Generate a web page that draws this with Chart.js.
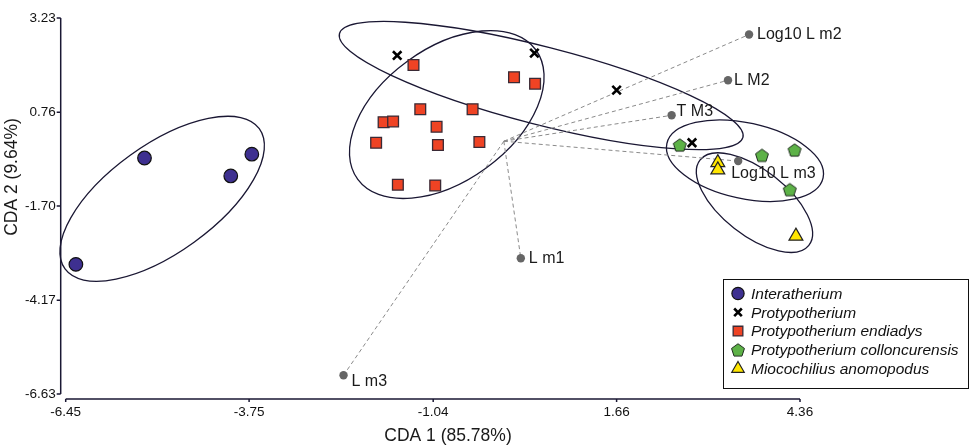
<!DOCTYPE html>
<html>
<head>
<meta charset="utf-8">
<script src="https://cdn.jsdelivr.net/npm/chart.js@4.4.1/dist/chart.umd.min.js"></script>
<style>
html,body{margin:0;padding:0;background:#fff;}
#wrap{width:979px;height:446px;}
</style>
</head>
<body>
<div id="wrap"><canvas id="cda" width="979" height="446"></canvas></div>
<script>
// CDA scores per group [CDA1, CDA2]
const interatherium = [[-5.29,-0.44],[-4.02,-0.91],[-3.71,-0.34],[-6.30,-3.23]];
const protypotherium = [[-1.57,2.25],[0.45,2.31],[1.66,1.34],[2.77,-0.04]];
const endiadys = [[-1.33,2.00],[0.15,1.68],[0.46,1.51],[-1.23,0.84],[-0.46,0.84],[-1.77,0.50],
                  [-1.63,0.52],[-0.99,0.38],[-1.88,-0.04],[-0.97,-0.10],[-0.36,-0.02],[-1.56,-1.14],[-1.01,-1.16]];
const colloncurensis = [[2.59,-0.10],[3.80,-0.37],[4.28,-0.23],[4.21,-1.27]];
const miocochilius = [[3.15,-0.56],[3.15,-0.75],[4.30,-2.49]];

const groupNames = ['Interatherium','Protypotherium','Protypotherium endiadys','Protypotherium colloncurensis','Miocochilius anomopodus'];

// variable loadings (biplot vectors from origin)
const vectorNames = ['Log10 L m2','L M2','T M3','Log10 L m3','L m1','L m3'];
const vectorEnds = [[3.61,2.80],[3.30,1.60],[2.47,0.68],[3.45,-0.52],[0.25,-3.07],[-2.36,-6.14]];

// 95% ellipses: centre, first and second semi-axis (data units)
const ellipseCenters = [[-5.03,-1.51],[0.55,1.46],[-0.84,0.70],[3.55,-0.51],[3.69,-1.61]];
const ellipseAxisA = [[1.43,1.84],[2.97,-1.36],[1.31,1.70],[1.15,-0.45],[0.80,-1.12]];
const ellipseAxisB = [[0.47,-1.14],[-0.14,-0.99],[0.58,-1.40],[-0.12,-0.97],[-0.30,-0.67]];

const xTicks = [-6.45,-3.75,-1.04,1.66,4.36];
const yTicks = [3.23,0.76,-1.70,-4.17,-6.63];

const FONT = '"Liberation Sans", Arial, sans-serif';
const lineCol = '#1a1733';

function toXY(arr){ return arr.map(function(p){ return {x:p[0], y:p[1]}; }); }

function makePentagon(){
    const c = document.createElement('canvas');
    c.width = 16; c.height = 16;
    const g = c.getContext('2d');
    g.beginPath();
    for (let k = 0; k < 5; k++) {
        const t = -Math.PI/2 + k*2*Math.PI/5;
        const px = 8 + 6.8*Math.cos(t), py = 8.6 + 6.8*Math.sin(t);
        if (k) g.lineTo(px,py); else g.moveTo(px,py);
    }
    g.closePath();
    g.fillStyle = '#5db247'; g.fill();
    g.strokeStyle = '#1d2a1d'; g.lineWidth = 1; g.stroke();
    return c;
}
const pentagon = makePentagon();

var datasets = [
    {label: groupNames[0], data: toXY(interatherium), pointStyle:'circle', pointRadius:6.8,
     backgroundColor:'#3e3090', borderColor:'#111', borderWidth:1.2},
    {label: groupNames[1], data: toXY(protypotherium), pointStyle:'crossRot', pointRadius:6,
     backgroundColor:'#000', borderColor:'#000', borderWidth:2.6},
    {label: groupNames[2], data: toXY(endiadys), pointStyle:'rect', pointRadius:7.6,
     backgroundColor:'#ef4324', borderColor:'#3a2a35', borderWidth:1.3},
    {label: groupNames[3], data: toXY(colloncurensis), pointStyle:pentagon, pointRadius:7,
     backgroundColor:'#5db247', borderColor:'#1d2a1d', borderWidth:1},
    {label: groupNames[4], data: toXY(miocochilius), pointStyle:'triangle', pointRadius:8,
     backgroundColor:'#ffe600', borderColor:'#222', borderWidth:1.2}
];
// dashed loading vectors
vectorEnds.forEach(function(e, i){
    datasets.push({label: vectorNames[i], data: [{x:0,y:0},{x:e[0],y:e[1]}], showLine:true,
        borderColor:'#8a8a8a', borderWidth:1, borderDash:[4,3],
        pointRadius:[0,4.2], pointBackgroundColor:'#666', pointBorderWidth:0});
});
datasets.forEach(function(d){ d.clip = false; });

// label offsets for vector names (px)
const vecLabelShift = [[8,0],[6,0],[5,-4],[-7,13],[8,0],[8,6]];

const ellipsePlugin = {
    id: 'ellipses',
    beforeDatasetsDraw(chart) {
        const ctx = chart.ctx, xs = chart.scales.x, ys = chart.scales.y;
        ctx.save();
        ctx.strokeStyle = lineCol;
        ctx.lineWidth = 1.3;
        ellipseCenters.forEach(function(c, i){
            const cx = xs.getPixelForValue(c[0]), cy = ys.getPixelForValue(c[1]);
            const a = ellipseAxisA[i], b = ellipseAxisB[i];
            const ax = xs.getPixelForValue(c[0]+a[0]) - cx, ay = ys.getPixelForValue(c[1]+a[1]) - cy;
            const bx = xs.getPixelForValue(c[0]+b[0]) - cx, by = ys.getPixelForValue(c[1]+b[1]) - cy;
            ctx.save();
            ctx.beginPath();
            ctx.transform(ax, ay, bx, by, cx, cy);
            ctx.arc(0, 0, 1, 0, Math.PI*2);
            ctx.restore();
            ctx.stroke();
        });
        ctx.restore();
    }
};

const axesPlugin = {
    id: 'offsetAxes',
    afterDraw(chart) {
        const ctx = chart.ctx, xs = chart.scales.x, ys = chart.scales.y, area = chart.chartArea;
        ctx.save();
        ctx.strokeStyle = lineCol;
        ctx.lineWidth = 1.5;
        // y axis, shifted left
        const yx = area.left - 5;
        ctx.beginPath();
        ctx.moveTo(yx, ys.getPixelForValue(yTicks[0]));
        ctx.lineTo(yx, ys.getPixelForValue(yTicks[yTicks.length-1]));
        yTicks.forEach(function(v){
            const p = ys.getPixelForValue(v);
            ctx.moveTo(yx - 4, p); ctx.lineTo(yx, p);
        });
        ctx.stroke();
        // x axis, shifted down
        const xy = area.bottom + 5;
        ctx.beginPath();
        ctx.moveTo(xs.getPixelForValue(xTicks[0]), xy);
        ctx.lineTo(xs.getPixelForValue(xTicks[xTicks.length-1]), xy);
        xTicks.forEach(function(v){
            const p = xs.getPixelForValue(v);
            ctx.moveTo(p, xy); ctx.lineTo(p, xy + 3);
        });
        ctx.stroke();

        // axis titles
        ctx.fillStyle = '#1a1a1a';
        ctx.font = '17.5px ' + FONT;
        ctx.textAlign = 'center';
        ctx.textBaseline = 'middle';
        ctx.fillText('CDA 1 (85.78%)', 448, 436);
        ctx.translate(12, 177);
        ctx.rotate(-Math.PI/2);
        ctx.fillText('CDA 2 (9.64%)', 0, 0);
        ctx.restore();
    }
};

const vectorLabelPlugin = {
    id: 'vectorLabels',
    afterDatasetsDraw(chart) {
        const ctx = chart.ctx, xs = chart.scales.x, ys = chart.scales.y;
        ctx.save();
        ctx.font = '16px ' + FONT;
        ctx.fillStyle = '#1a1a1a';
        ctx.textAlign = 'left';
        ctx.textBaseline = 'middle';
        vectorEnds.forEach(function(e, i){
            ctx.fillText(vectorNames[i], xs.getPixelForValue(e[0]) + vecLabelShift[i][0],
                                         ys.getPixelForValue(e[1]) + vecLabelShift[i][1]);
        });
        ctx.restore();
    }
};

const legendPlugin = {
    id: 'boxLegend',
    afterDraw(chart) {
        const ctx = chart.ctx;
        const bx = 723.5, by = 279.5, bw = 245, bh = 109;
        ctx.save();
        ctx.fillStyle = '#fff';
        ctx.fillRect(bx, by, bw, bh);
        ctx.strokeStyle = '#111';
        ctx.lineWidth = 1;
        ctx.strokeRect(bx, by, bw, bh);
        ctx.font = 'italic 15.5px ' + FONT;
        ctx.textBaseline = 'middle';
        ctx.textAlign = 'left';
        for (let i = 0; i < groupNames.length; i++) {
            const d = chart.data.datasets[i];
            const ry = 293.5 + i*18.8;
            ctx.fillStyle = d.backgroundColor;
            ctx.strokeStyle = d.borderColor;
            ctx.lineWidth = d.borderWidth;
            Chart.helpers.drawPoint(ctx, {pointStyle: d.pointStyle, radius: d.pointRadius*0.9,
                borderWidth: d.borderWidth, rotation: 0}, 738, ry);
            ctx.fillStyle = '#111';
            ctx.fillText(groupNames[i], 751, ry + 1);
        }
        ctx.restore();
    }
};

var ctx1 = document.getElementById('cda').getContext('2d');
var chart = new Chart(ctx1, {
    type: 'scatter',
    data: {datasets: datasets},
    options: {
        responsive: false,
        animation: false,
        layout: {padding: {top: 16.7, right: 179, bottom: 0, left: 0}},
        plugins: {legend: {display: false}, tooltip: {enabled: false}},
        scales: {
            x: {
                type: 'linear', min: xTicks[0], max: xTicks[xTicks.length-1],
                afterBuildTicks: function(s){ s.ticks = xTicks.map(function(v){ return {value: v}; }); },
                afterFit: function(s){ s.height = 52; },
                grid: {display: false, drawTicks: false},
                border: {display: false},
                ticks: {autoSkip: false, maxRotation: 0, padding: 10, color: '#111',
                        font: {family: FONT, size: 13.5},
                        callback: function(v){ return Number(v).toFixed(2); }}
            },
            y: {
                type: 'linear', min: yTicks[yTicks.length-1], max: yTicks[0],
                afterBuildTicks: function(s){ s.ticks = yTicks.map(function(v){ return {value: v}; }); },
                afterFit: function(s){ s.width = 65.7; },
                grid: {display: false, drawTicks: false},
                border: {display: false},
                ticks: {autoSkip: false, padding: 10, color: '#111',
                        font: {family: FONT, size: 13.5},
                        callback: function(v){ return Number(v).toFixed(2); }}
            }
        }
    },
    plugins: [ellipsePlugin, vectorLabelPlugin, axesPlugin, legendPlugin]
});
</script>
</body>
</html>
